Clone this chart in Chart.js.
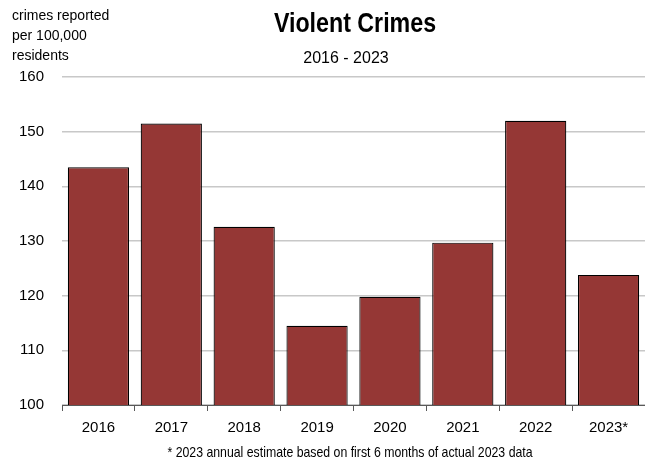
<!DOCTYPE html>
<html>
<head>
<meta charset="utf-8">
<script src="https://cdn.jsdelivr.net/npm/chart.js@4"></script>
<style>
  html, body { margin: 0; padding: 0; background: #fff; }
  #box { width: 645px; height: 462px; }
</style>
</head>
<body>
<div id="box"><canvas id="myChart"></canvas></div>
<script>
// datos del grafico
const years = ['2016', '2017', '2018', '2019', '2020', '2021', '2022', '2023*'];
const crimes = [143.5, 151.5, 132.6, 114.5, 119.8, 129.7, 152.0, 123.8];
const yTicks = [100, 110, 120, 130, 140, 150, 160];

const titleText = 'Violent Crimes';
const subtitleText = '2016 - 2023';
const unitLines = ['crimes reported', 'per 100,000', 'residents'];
const footNote = '* 2023 annual estimate based on first 6 months of actual 2023 data';

// texto "angosto" (no hay Arial Narrow): se escala en horizontal
function textoAngosto(ctx, text, x, y, escala) {
    ctx.save();
    ctx.translate(x, y);
    ctx.scale(escala, 1);
    ctx.fillText(text, 0, 0);
    ctx.restore();
}

// textos fuera del area del grafico
const textosPlugin = {
    id: 'textos',
    afterDraw(chart) {
        const ctx = chart.ctx;
        ctx.save();
        ctx.fillStyle = '#000';
        ctx.textBaseline = 'middle';

        ctx.textAlign = 'left';
        ctx.font = '14px "Liberation Sans", Arial, sans-serif';
        unitLines.forEach((line, i) => ctx.fillText(line, 12, 16 + i * 20));

        ctx.textAlign = 'center';
        ctx.font = 'bold 27px "Liberation Sans", Arial, sans-serif';
        textoAngosto(ctx, titleText, 355, 25, 0.86);

        ctx.font = '16px "Liberation Sans", Arial, sans-serif';
        ctx.fillText(subtitleText, 346, 59);

        ctx.font = '15px "Liberation Sans", Arial, sans-serif';
        textoAngosto(ctx, footNote, 350, 453, 0.82);
        ctx.restore();
    }
};

const ctx = document.getElementById('myChart').getContext('2d');
const myChart = new Chart(ctx, {
    type: 'bar',
    data: {
        labels: years,
        datasets: [{
            data: crimes,
            backgroundColor: '#953735',
            borderColor: '#000000',
            borderWidth: 1.2,
            borderSkipped: 'bottom',
            categoryPercentage: 1,
            barPercentage: 0.84
        }]
    },
    options: {
        responsive: true,
        maintainAspectRatio: false,
        animation: false,
        layout: {
            padding: { top: 77, left: 0, right: 0, bottom: 0 }
        },
        scales: {
            x: {
                afterFit: (scale) => { scale.height = 57; },
                grid: {
                    offset: true,
                    drawOnChartArea: false,
                    drawTicks: true,
                    tickLength: 6,
                    color: '#595959'
                },
                border: { display: true, color: '#595959', width: 1 },
                ticks: {
                    padding: 8,
                    color: '#000',
                    font: { family: '"Liberation Sans", Arial, sans-serif', size: 15 }
                }
            },
            y: {
                min: 100,
                max: 160,
                afterFit: (scale) => { scale.width = 62; },
                afterBuildTicks: (scale) => {
                    scale.ticks = yTicks.map(v => ({ value: v }));
                },
                grid: {
                    drawTicks: false,
                    color: '#c8c8c8',
                    lineWidth: 1.5
                },
                border: { display: false },
                ticks: {
                    padding: 18,
                    color: '#000',
                    font: { family: '"Liberation Sans", Arial, sans-serif', size: 15 }
                }
            }
        },
        plugins: {
            legend: { display: false },
            title: { display: false },
            tooltip: { enabled: false }
        }
    },
    plugins: [textosPlugin]
});
</script>
</body>
</html>
